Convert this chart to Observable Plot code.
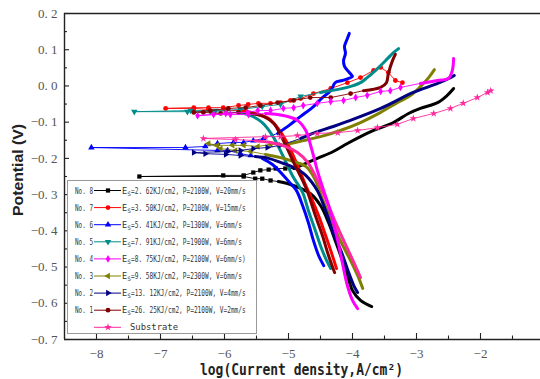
<!DOCTYPE html>
<html><head><meta charset="utf-8">
<script src="https://cdn.jsdelivr.net/npm/d3@7"></script>
<script src="https://cdn.jsdelivr.net/npm/@observablehq/plot@0.6"></script>
<style>
html,body{margin:0;padding:0;background:#fff;}
#chart{width:540px;height:379px;overflow:hidden;}
</style></head><body><div id="chart"></div>
<script>
// ---- tick values ----
const xTicks = [-8, -7, -6, -5, -4, -3, -2];
const xMinorTicks = [-7.5, -6.5, -5.5, -4.5, -3.5, -2.5, -1.5];
const yTicks = [-0.7, -0.6, -0.5, -0.4, -0.3, -0.2, -0.1, 0.0, 0.1, 0.2];
const yMinorTicks = [-0.65, -0.55, -0.45, -0.35, -0.25, -0.15, -0.05, 0.05, 0.15];

// ---- series: [log i, E] ; cathodic & anodic listed from Ecorr outward ----
const no8_ecorr = [-7.33, -0.250];
const no8_cathodic = [[-5.70,-0.250],[-5.52,-0.256],[-5.41,-0.256],[-5.28,-0.261],[-5.16,-0.264],[-4.97,-0.272],[-4.81,-0.283],[-4.66,-0.297],[-4.50,-0.330],[-4.375,-0.377],[-4.27,-0.427],[-4.17,-0.476],[-4.08,-0.523],[-4.00,-0.565],[-3.875,-0.592],[-3.70,-0.609]];
const no8_anodic = [[-6.02,-0.247],[-5.70,-0.247],[-5.55,-0.239],[-5.44,-0.233],[-5.31,-0.231],[-5.20,-0.228],[-5.05,-0.228],[-4.92,-0.228],[-4.73,-0.214],[-4.55,-0.200],[-4.30,-0.181],[-4.08,-0.159],[-3.875,-0.140],[-3.67,-0.123],[-3.36,-0.101],[-3.125,-0.076],[-2.94,-0.062],[-2.67,-0.046],[-2.52,-0.026],[-2.42,-0.007]];

const no7_ecorr = [-6.92, -0.062];
const no7_cathodic = [[-6.48,-0.062],[-6.25,-0.065],[-5.98,-0.068],[-5.75,-0.068],[-5.52,-0.076],[-5.31,-0.090],[-5.16,-0.118],[-5.00,-0.164],[-4.84,-0.228],[-4.73,-0.275],[-4.66,-0.302],[-4.53,-0.358],[-4.42,-0.413],[-4.33,-0.460],[-4.25,-0.504]];
const no7_anodic = [[-6.48,-0.060],[-6.25,-0.060],[-6.02,-0.060],[-5.78,-0.054],[-5.63,-0.051],[-5.47,-0.048],[-5.28,-0.048],[-5.125,-0.046],[-4.97,-0.040],[-4.81,-0.035],[-4.61,-0.021],[-4.34,-0.007],[-4.08,0.009],[-3.875,0.023],[-3.67,0.043],[-3.56,0.051],[-3.44,0.037],[-3.33,0.015],[-3.22,0.009]];

const no6_ecorr = [-8.08, -0.170];
const no6_cathodic = [[-6.11,-0.178],[-5.95,-0.178],[-5.75,-0.187],[-5.59,-0.192],[-5.41,-0.200],[-5.25,-0.217],[-5.09,-0.245],[-4.97,-0.269],[-4.875,-0.289],[-4.78,-0.330],[-4.69,-0.377],[-4.61,-0.427],[-4.53,-0.468],[-4.45,-0.496]];
const no6_anodic = [[-6.61,-0.170],[-6.30,-0.167],[-6.11,-0.159],[-5.86,-0.156],[-5.70,-0.156],[-5.55,-0.151],[-5.39,-0.145],[-5.17,-0.131],[-4.97,-0.106],[-4.81,-0.084],[-4.61,-0.057],[-4.47,-0.032],[-4.34,-0.013],[-4.27,0.009],[-4.16,0.015],[-4.06,0.021],[-4.00,0.026],[-4.05,0.037],[-4.125,0.054],[-4.14,0.070],[-4.11,0.090],[-4.125,0.109],[-4.08,0.131],[-4.05,0.145]];

const no5_ecorr = [-7.41, -0.071];
const no5_cathodic = [[-6.58,-0.071],[-6.22,-0.071],[-5.80,-0.073],[-5.59,-0.082],[-5.41,-0.101],[-5.25,-0.137],[-5.09,-0.192],[-4.94,-0.247],[-4.78,-0.294],[-4.69,-0.344],[-4.59,-0.394],[-4.50,-0.441],[-4.42,-0.476],[-4.34,-0.504]];
const no5_anodic = [[-6.53,-0.068],[-6.14,-0.068],[-5.75,-0.065],[-5.41,-0.057],[-5.125,-0.051],[-4.81,-0.029],[-4.50,-0.018],[-4.08,-0.004],[-3.875,0.009],[-3.77,0.023],[-3.61,0.048],[-3.45,0.076],[-3.36,0.092],[-3.28,0.103]];

const no4_ecorr = [-6.42, -0.082];
const no4_cathodic = [[-6.17,-0.079],[-5.91,-0.079],[-5.625,-0.079],[-5.36,-0.076],[-5.17,-0.079],[-5.02,-0.084],[-4.86,-0.095],[-4.73,-0.123],[-4.64,-0.173],[-4.55,-0.233],[-4.45,-0.289],[-4.34,-0.349],[-4.23,-0.427],[-4.16,-0.487],[-4.08,-0.551],[-4.00,-0.592],[-3.92,-0.615]];
const no4_anodic = [[-5.98,-0.076],[-5.64,-0.073],[-5.48,-0.068],[-5.28,-0.068],[-5.08,-0.062],[-4.92,-0.060],[-4.77,-0.054],[-4.55,-0.048],[-4.34,-0.043],[-4.14,-0.040],[-3.95,-0.032],[-3.77,-0.026],[-3.56,-0.015],[-3.41,-0.013],[-3.25,-0.004],[-2.94,0.007],[-2.67,0.015],[-2.50,0.021],[-2.44,0.043],[-2.42,0.076]];

const no3_ecorr = [-6.25, -0.159];
const no3_cathodic = [[-6.06,-0.173],[-5.83,-0.178],[-5.59,-0.181],[-5.36,-0.189],[-5.125,-0.198],[-4.92,-0.209],[-4.73,-0.222],[-4.59,-0.256],[-4.48,-0.308],[-4.34,-0.366],[-4.19,-0.427],[-4.03,-0.482],[-3.92,-0.523],[-3.84,-0.559]];
const no3_anodic = [[-6.11,-0.164],[-5.875,-0.164],[-5.70,-0.164],[-5.48,-0.167],[-5.28,-0.162],[-4.97,-0.159],[-4.77,-0.151],[-4.50,-0.140],[-4.19,-0.123],[-3.875,-0.101],[-3.56,-0.073],[-3.30,-0.046],[-3.09,-0.026],[-2.94,-0.002],[-2.81,0.023],[-2.72,0.045]];

const no2_ecorr = [-6.48, -0.184];
const no2_cathodic = [[-6.30,-0.187],[-5.98,-0.189],[-5.75,-0.192],[-5.52,-0.195],[-5.31,-0.200],[-5.125,-0.211],[-4.92,-0.225],[-4.73,-0.247],[-4.55,-0.289],[-4.42,-0.344],[-4.30,-0.405],[-4.17,-0.460],[-4.06,-0.515],[-3.98,-0.551],[-3.92,-0.570]];
const no2_anodic = [[-5.95,-0.181],[-5.75,-0.178],[-5.55,-0.173],[-5.33,-0.170],[-5.125,-0.164],[-4.81,-0.145],[-4.61,-0.130],[-4.30,-0.112],[-4.08,-0.098],[-3.56,-0.062],[-3.05,-0.018],[-2.67,0.007],[-2.47,0.023],[-2.41,0.029]];

const no1_ecorr = [-6.48, -0.073];
const no1_cathodic = [[-6.33,-0.073],[-6.06,-0.076],[-5.78,-0.073],[-5.59,-0.076],[-5.39,-0.084],[-5.23,-0.104],[-5.08,-0.151],[-4.92,-0.211],[-4.78,-0.261],[-4.70,-0.294],[-4.58,-0.358],[-4.47,-0.413],[-4.375,-0.468],[-4.28,-0.515]];
const no1_anodic = [[-6.22,-0.068],[-5.94,-0.062],[-5.67,-0.060],[-5.44,-0.054],[-5.17,-0.046],[-4.92,-0.040],[-4.66,-0.032],[-4.34,-0.032],[-4.03,-0.021],[-3.83,-0.013],[-3.56,-0.004],[-3.47,0.009],[-3.44,0.034],[-3.375,0.070],[-3.33,0.087]];

const sub_ecorr = [-6.33, -0.145];
const sub_cathodic = [[-5.83,-0.148],[-5.52,-0.151],[-5.28,-0.156],[-5.05,-0.167],[-4.86,-0.184],[-4.70,-0.211],[-4.56,-0.256],[-4.42,-0.311],[-4.28,-0.371],[-4.125,-0.432],[-3.98,-0.487],[-3.875,-0.529]];
const sub_anodic = [[-5.36,-0.140],[-5.125,-0.140],[-4.86,-0.137],[-4.55,-0.131],[-4.23,-0.129],[-3.92,-0.123],[-3.61,-0.115],[-3.30,-0.106],[-3.05,-0.090],[-2.73,-0.076],[-2.47,-0.062],[-2.27,-0.048],[-2.05,-0.032],[-1.89,-0.018],[-1.84,-0.013]];

// ---- legend labels ----
const sampleNames = ["No. 8","No. 7","No. 6","No. 5","No. 4","No. 3","No. 2","No. 1","Substrate"];
const sampleDesc = ["=2. 62KJ/cm2, P=2100W, V=20mm/s","=3. 50KJ/cm2, P=2100W, V=15mm/s","=5. 41KJ/cm2, P=1300W, V=6mm/s","=7. 91KJ/cm2, P=1900W, V=6mm/s","=8. 75KJ/cm2, P=2100W, V=6mm/s)","=9. 58KJ/cm2, P=2300W, V=6mm/s","=13. 12KJ/cm2, P=2100W, V=4mm/s","=26. 25KJ/cm2, P=2100W, V=2mm/s",""];

// ---- custom symbols ----
const s3 = Math.sqrt(3);
const triDown = {draw(c, size){const y = -Math.sqrt(size/(s3*3)); c.moveTo(0,-y*2); c.lineTo(-s3*y, y); c.lineTo(s3*y, y); c.closePath();}};
const triLeft = {draw(c, size){const y = -Math.sqrt(size/(s3*3)); c.moveTo(y*2,0); c.lineTo(-y, -s3*y); c.lineTo(-y, s3*y); c.closePath();}};
const triRight = {draw(c, size){const y = -Math.sqrt(size/(s3*3)); c.moveTo(-y*2,0); c.lineTo(y, -s3*y); c.lineTo(y, s3*y); c.closePath();}};

const series = [
  {ecorr:no8_ecorr, cath:no8_cathodic, anod:no8_anodic, color:"#000000", symbol:d3.symbolSquare, sc:4, sa:7},
  {ecorr:no7_ecorr, cath:no7_cathodic, anod:no7_anodic, color:"#ff0000", symbol:d3.symbolCircle, sc:3, sa:99},
  {ecorr:no6_ecorr, cath:no6_cathodic, anod:no6_anodic, color:"#0000ff", symbol:d3.symbolTriangle, sc:4, sa:7},
  {ecorr:no5_ecorr, cath:no5_cathodic, anod:no5_anodic, color:"#008c8c", symbol:triDown, sc:2, sa:6},
  {ecorr:no4_ecorr, cath:no4_cathodic, anod:no4_anodic, color:"#ff00ff", symbol:d3.symbolDiamond, sc:3, sa:15},
  {ecorr:no3_ecorr, cath:no3_cathodic, anod:no3_anodic, color:"#808000", symbol:triLeft, sc:3, sa:5},
  {ecorr:no2_ecorr, cath:no2_cathodic, anod:no2_anodic, color:"#000080", symbol:triRight, sc:3, sa:5},
  {ecorr:no1_ecorr, cath:no1_cathodic, anod:no1_anodic, color:"#800000", symbol:d3.symbolCircle, sc:3, sa:9},
  {ecorr:sub_ecorr, cath:sub_cathodic, anod:sub_anodic, color:"#ff2a9d", symbol:d3.symbolStar, sc:1, sa:99}
];

const vpp = 0.9/326, hpp = 1/64;
const P = ([x,y]) => ({x, y});
const marks = [];
const drawOrder = [0,1,2,3,5,6,7,8,4];
for (const i of drawOrder) {
  const s = series[i];
  const full = [...s.cath.slice().reverse(), s.ecorr, ...s.anod].map(P);
  marks.push(Plot.line(full, {x:"x", y:"y", stroke:s.color, strokeWidth:0.9}));
  const ct = s.cath.slice(s.sc).map(P);
  const at = s.anod.slice(s.sa).map(P);
  if (ct.length > 1) marks.push(Plot.line(ct, {x:"x", y:"y", stroke:s.color, strokeWidth:3, curve:"catmull-rom", strokeLinejoin:"round"}));
  if (at.length > 1) marks.push(Plot.line(at, {x:"x", y:"y", stroke:s.color, strokeWidth:3, curve:"catmull-rom", strokeLinejoin:"round"}));
  const pts = [s.ecorr, ...s.cath.slice(0, s.sc), ...s.anod.slice(0, s.sa)].map(P);
  marks.push(Plot.dot(pts, {x:"x", y:"y", fill:s.color, stroke:"none", r:2.4, symbol:s.symbol}));
}

const fmtY = d => (d < -1e-9 ? "\u2212" : "") + Math.abs(d).toFixed(1).replace(".", ". ");
const fmtX = d => (d < 0 ? "\u2212" : "") + Math.abs(d);

const chart = Plot.plot({
  width: 540, height: 379,
  marginLeft: 64, marginRight: 0, marginTop: 13, marginBottom: 40,
  x: {domain: [-8.5, -1.0625]},
  y: {domain: [-0.7, 0.2]},
  style: {fontFamily: "'Liberation Serif', serif", fontSize: "13px", color: "#555", background: "#fff"},
  marks: [
    Plot.axisX({ticks: xTicks, tickSize: 0, tickPadding: 9, tickFormat: fmtX, label: null}),
    Plot.axisY({ticks: yTicks, tickSize: 0, tickPadding: 7, tickFormat: fmtY, label: null}),
    ...marks,
    Plot.ruleX(xTicks, {x: d => d, y1: -0.7, y2: -0.7 + 6*vpp, stroke: "#222", strokeWidth: 1.1}),
    Plot.ruleX(xMinorTicks, {x: d => d, y1: -0.7, y2: -0.7 + 3.5*vpp, stroke: "#222", strokeWidth: 1.1}),
    Plot.ruleY(yTicks, {y: d => d, x1: -8.5, x2: -8.5 + 5*hpp, stroke: "#222", strokeWidth: 1.1}),
    Plot.ruleY(yMinorTicks, {y: d => d, x1: -8.5, x2: -8.5 + 3*hpp, stroke: "#222", strokeWidth: 1.1}),
    Plot.ruleX([-8.5], {stroke: "#222", strokeWidth: 1.4}),
    Plot.ruleY([-0.7, 0.2], {stroke: "#222", strokeWidth: 1.4})
  ]
});
document.getElementById("chart").appendChild(chart);

// ---- axis titles ----
const svg = d3.select(chart);
svg.append("text").attr("transform", "translate(23,170) rotate(-90)")
  .attr("text-anchor", "middle").attr("font-family", "'Liberation Sans', Arial, sans-serif")
  .attr("font-weight", "bold").attr("font-size", 14).attr("fill", "#222")
  .attr("textLength", 92).attr("lengthAdjust", "spacingAndGlyphs").text("Potential (V)");
svg.append("text").attr("x", 200).attr("y", 375).attr("text-anchor", "start")
  .attr("font-family", "'DejaVu Sans Mono', monospace").attr("font-weight", "bold")
  .attr("font-size", 16).attr("fill", "#222")
  .attr("textLength", 203).attr("lengthAdjust", "spacingAndGlyphs").text("log(Current density,A/cm\u00b2)");

// ---- legend ----
const lg = svg.append("g").attr("font-family", "'DejaVu Sans Mono', monospace")
  .attr("fill", "#333").attr("text-anchor", "start");
lg.append("rect").attr("x", 67.5).attr("y", 180.5).attr("width", 189).attr("height", 153)
  .attr("fill", "#fff").attr("stroke", "#999").attr("stroke-width", 1);
sampleNames.forEach((name, i) => {
  const s = series[i];
  const y = 190.5 + i * 17.1;
  lg.append("line").attr("x1", 94).attr("x2", 121).attr("y1", y).attr("y2", y)
    .attr("stroke", s.color).attr("stroke-width", 1);
  lg.append("path").attr("d", d3.symbol(s.symbol, Math.PI * 2.4 * 2.4)())
    .attr("transform", `translate(108,${y})`).attr("fill", s.color);
  if (name === "Substrate") {
    lg.append("text").attr("x", 130).attr("y", y + 3).attr("font-size", 8.5).attr("text-anchor", "start")
      .attr("textLength", 48).attr("lengthAdjust", "spacingAndGlyphs").text(name);
  } else {
    lg.append("text").attr("x", 75).attr("y", y + 3).attr("font-size", 8).attr("text-anchor", "start")
      .attr("textLength", 18).attr("lengthAdjust", "spacingAndGlyphs").text(name);
    lg.append("text").attr("x", 122).attr("y", y + 3).attr("font-size", 8.5).attr("text-anchor", "start").text("E");
    lg.append("text").attr("x", 127.3).attr("y", y + 5).attr("font-size", 6).attr("text-anchor", "start").text("S");
    const desc = sampleDesc[i];
    lg.append("text").attr("x", 131).attr("y", y + 3).attr("font-size", 8.5).attr("text-anchor", "start")
      .attr("textLength", desc.length * 3.7).attr("lengthAdjust", "spacingAndGlyphs").text(desc);
  }
});
</script></body></html>
